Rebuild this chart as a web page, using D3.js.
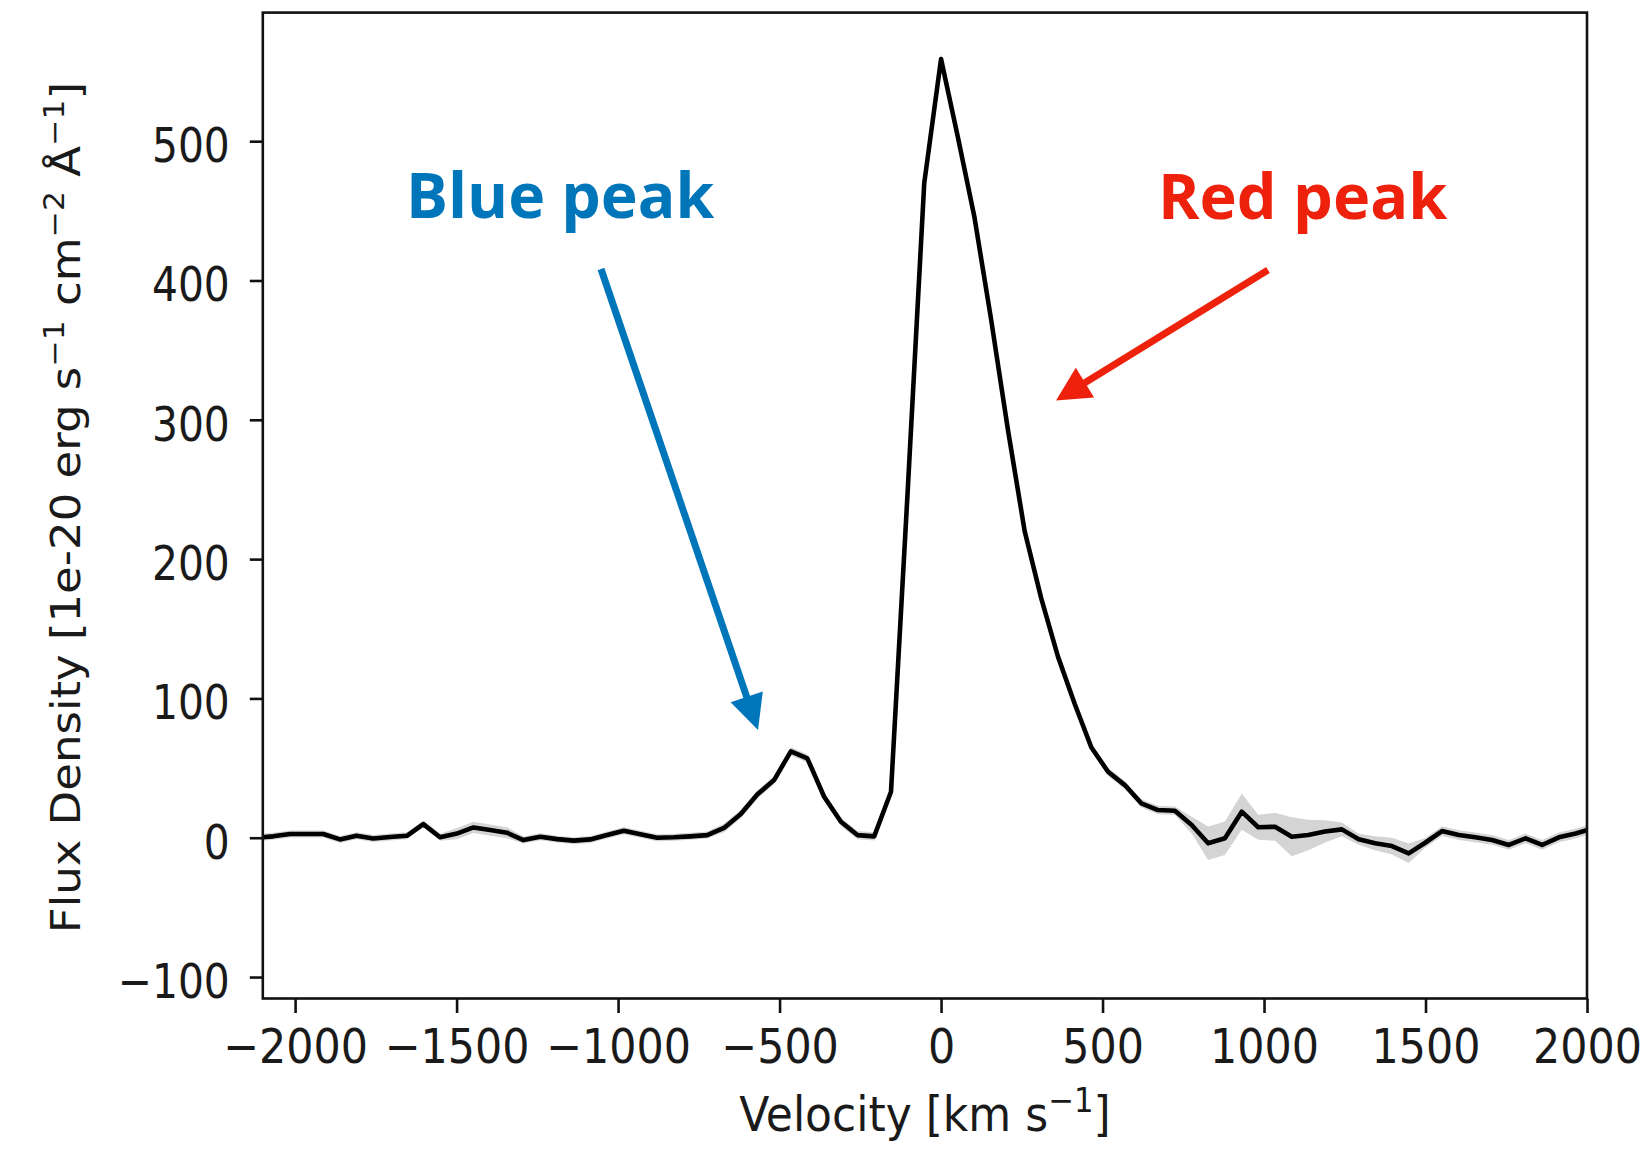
<!DOCTYPE html>
<html>
<head>
<meta charset="utf-8">
<script src="https://cdn.jsdelivr.net/npm/d3@7"></script>
<style>
  body { margin: 0; background: #fff; }
  svg { display: block; }
</style>
</head>
<body>
<svg id="chart" width="1648" height="1152"></svg>
<script>
// Line-of-sight velocity of each spectral pixel [km/s]
const velocity = [
  -2120, -2068, -2016, -1965, -1913, -1861, -1810, -1758, -1706, -1654,
  -1603, -1551, -1499, -1448, -1396, -1344, -1293, -1241, -1189, -1137,
  -1086, -1034, -982, -931, -879, -827, -776, -724, -672, -620,
  -569, -517, -465, -414, -362, -310, -259, -207, -155, -103,
  -52, 0, 52, 103, 155, 207, 259, 310, 362, 414,
  465, 517, 569, 620, 672, 724, 776, 827, 879, 931,
  982, 1034, 1086, 1137, 1189, 1241, 1293, 1344, 1396, 1448,
  1499, 1551, 1603, 1654, 1706, 1758, 1810, 1861, 1913, 1965,
  2016
];

// Flux density [1e-20 erg s^-1 cm^-2 A^-1]
const flux = [
  0, 1, 2.7, 2.7, 2.7, -1.2, 1.4, -0.5, 0.5, 1.4,
  9.8, 0.3, 3, 7.4, 5.5, 3.6, -1.7, 0.7, -1, -2.1,
  -1.2, 2, 5, 2.5, 0, 0.3, 1, 1.9, 7, 17,
  31, 41.4, 62, 57, 29.4, 11.5, 1.9, 1.0, 33, 250,
  470, 559, 503, 446, 372, 293, 220, 172, 130, 96,
  65, 47.4, 37.8, 24.7, 19.9, 19.4, 9.1, -4, -0.4, 18.7,
  7.5, 7.9, 0.7, 2, 4.5, 6, -1.1, -4, -6, -11.2,
  -3.6, 4.8, 1.9, 0.3, -1.6, -5.2, -0.4, -5.2, 0.3, 3,
  6.5
];

// 1-sigma uncertainty on the flux
const fluxErr = [
  2.5, 2.5, 2.5, 2.5, 2.5, 2.5, 2.5, 2.5, 2.5, 2.5,
  2.5, 2.5, 4, 4, 4, 4, 2.5, 2.5, 2.5, 2.5,
  2.5, 2.5, 2.5, 2.5, 2.5, 2.5, 2.5, 2.5, 3, 3,
  3, 3, 3, 3, 3, 3, 3, 3, 3, 3,
  3, 4, 3, 3, 3, 3, 3, 3, 3, 3,
  3, 3, 3, 3, 3, 3, 6, 12, 12, 13,
  9, 10, 14, 11, 8, 5, 4, 5, 6, 7,
  3.5, 3.5, 3.5, 3.5, 3.5, 3.5, 3.5, 3.5, 3.5, 3.5,
  3.5
];

const xTicks = [-2000, -1500, -1000, -500, 0, 500, 1000, 1500, 2000];
const yTicks = [-100, 0, 100, 200, 300, 400, 500];

const xLabel = ["Velocity [km s", "−1", "]"];
const yLabel = ["Flux Density [1e-20 erg s", "−1", " cm", "−2", " Å", "−1", "]"];

// ---------------------------------------------------------------------------

const svg = d3.select("#chart");
const box = { left: 262.8, right: 1587, top: 12.6, bottom: 998.5 };
const stretch = 1.2;           // text is drawn taller than wide
const fontSize = 40;
const tickFont = "'DejaVu Sans', sans-serif";
const fmt = d3.format("d");

const x = d3.scaleLinear().domain([-2100, 2000]).range([box.left, box.right]);
const y = d3.scaleLinear().domain([-115.4, 592.3]).range([box.bottom, box.top]);

const points = velocity.map((v, i) => ({ v, f: flux[i], e: fluxErr[i] }));

svg.append("defs").append("clipPath").attr("id", "plot-clip")
  .append("rect")
  .attr("x", box.left).attr("y", box.top)
  .attr("width", box.right - box.left).attr("height", box.bottom - box.top);

const plot = svg.append("g").attr("clip-path", "url(#plot-clip)");

// uncertainty band
plot.append("path")
  .datum(points)
  .attr("fill", "#d4d4d4")
  .attr("d", d3.area()
    .x(d => x(d.v))
    .y0(d => y(d.f - d.e))
    .y1(d => y(d.f + d.e)));

// spectrum
plot.append("path")
  .datum(points)
  .attr("fill", "none")
  .attr("stroke", "#000")
  .attr("stroke-width", 4.6)
  .attr("stroke-linejoin", "round")
  .attr("d", d3.line().x(d => x(d.v)).y(d => y(d.f)));

// axes
const xAxis = svg.append("g")
  .attr("transform", `translate(0,${box.bottom})`)
  .call(d3.axisBottom(x).tickValues(xTicks).tickFormat(fmt).tickSize(14.5).tickSizeOuter(0));

const yAxis = svg.append("g")
  .attr("transform", `translate(${box.left},0)`)
  .call(d3.axisLeft(y).tickValues(yTicks).tickFormat(fmt).tickSize(13).tickSizeOuter(0));

[xAxis, yAxis].forEach(g => {
  g.select(".domain").remove();
  g.selectAll(".tick line").attr("stroke", "#111").attr("stroke-width", 2.6);
  g.selectAll(".tick text")
    .attr("font-family", tickFont)
    .attr("font-size", fontSize)
    .attr("fill", "#1a1a1a");
});

xAxis.selectAll(".tick text")
  .attr("y", null).attr("dy", null)
  .attr("transform", `translate(0,64.5) scale(1.07,${stretch})`);

yAxis.selectAll(".tick text")
  .attr("x", null).attr("dy", null)
  .attr("text-anchor", "end")
  .attr("transform", `translate(-33,20.5) scale(1.02,${stretch})`);

// frame
svg.append("rect")
  .attr("x", box.left).attr("y", box.top)
  .attr("width", box.right - box.left).attr("height", box.bottom - box.top)
  .attr("fill", "none").attr("stroke", "#111").attr("stroke-width", 2.6);

// axis titles with superscripts
function writeLabel(textSel, parts) {
  let raised = false;
  parts.forEach((p, i) => {
    const isSup = i % 2 === 1;
    const t = textSel.append("tspan").text(p);
    if (isSup) {
      t.attr("font-size", fontSize * 0.7).attr("dy", -16);
      raised = true;
    } else if (raised) {
      t.attr("dy", 16);
      raised = false;
    }
  });
}

const xTitle = svg.append("text")
  .attr("font-family", tickFont).attr("font-size", fontSize).attr("fill", "#1a1a1a")
  .attr("text-anchor", "middle")
  .attr("transform", `translate(${(box.left + box.right) / 2},1131) scale(1.1,${stretch})`);
writeLabel(xTitle, xLabel);

const yTitle = svg.append("text")
  .attr("font-family", tickFont).attr("font-size", fontSize).attr("fill", "#1a1a1a")
  .attr("text-anchor", "middle")
  .attr("transform", `translate(80,${(box.top + box.bottom) / 2 + 2}) scale(1,1.125) rotate(-90)`);
writeLabel(yTitle, yLabel);

// annotations
function arrow(x1, y1, x2, y2, color, headLen, headHalf, width) {
  const dx = x2 - x1, dy = y2 - y1, len = Math.hypot(dx, dy);
  const ux = dx / len, uy = dy / len, nx = -uy, ny = ux;
  const bx = x2 - ux * headLen, by = y2 - uy * headLen;
  svg.append("line")
    .attr("x1", x1).attr("y1", y1)
    .attr("x2", bx + ux * 2).attr("y2", by + uy * 2)
    .attr("stroke", color).attr("stroke-width", width);
  svg.append("path")
    .attr("d", `M${x2},${y2}L${bx + nx * headHalf},${by + ny * headHalf}L${bx - nx * headHalf},${by - ny * headHalf}Z`)
    .attr("fill", color);
}

const blue = "#0076BA", red = "#EE220C";
const noteFont = "'Open Sans', sans-serif";

svg.append("text").text("Blue peak")
  .attr("x", 406).attr("y", 218)
  .attr("font-family", noteFont).attr("font-weight", 700).attr("font-size", 62.5)
  .attr("fill", blue);
svg.append("text").text("Red peak")
  .attr("x", 1158).attr("y", 219)
  .attr("font-family", noteFont).attr("font-weight", 700).attr("font-size", 63)
  .attr("fill", red);

arrow(601, 269, 758, 730, blue, 35, 17, 7);
arrow(1268, 270, 1056, 400.5, red, 34, 17.5, 7);
</script>
</body>
</html>
